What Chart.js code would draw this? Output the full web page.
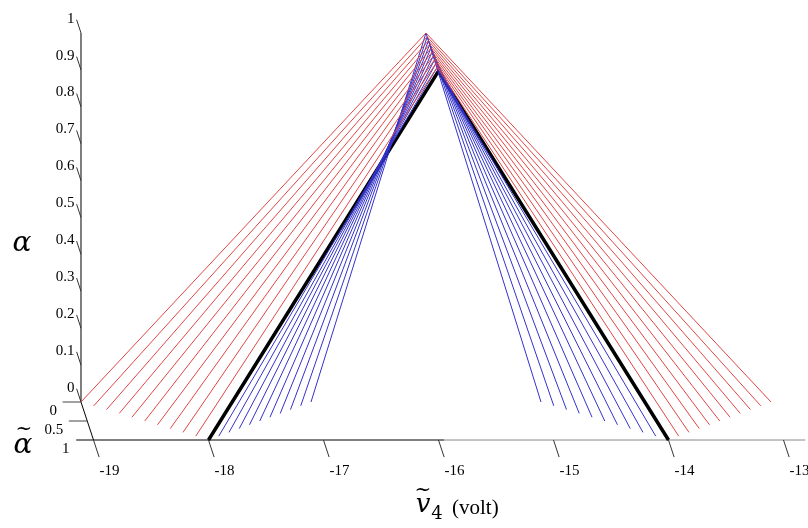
<!DOCTYPE html>
<html>
<head>
<meta charset="utf-8">
<script src="https://cdn.jsdelivr.net/npm/chart.js@4.4.1/dist/chart.umd.min.js"></script>
<style>
  body { margin: 0; background: #fff; }
  #wrap { width: 808px; height: 528px; }
</style>
</head>
<body>
<div id="wrap"><canvas id="myChart"></canvas></div>
<script>
// alpha-tilde levels (depth axis) for the red / blue families
const alphaTilde = [0, 0.1, 0.2, 0.3, 0.4, 0.5, 0.6, 0.7, 0.8, 0.9];
// upper (red) triangles: left end, right end
const redLeft  = [-19, -18.9, -18.8, -18.7, -18.6, -18.5, -18.4, -18.3, -18.2, -18.1];
const redRight = [-13, -13.1, -13.2, -13.3, -13.4, -13.5, -13.6, -13.7, -13.8, -13.9];
// lower (blue) triangles: left end, right end
const blueLeft  = [-17, -17.1, -17.2, -17.3, -17.4, -17.5, -17.6, -17.7, -17.8, -17.9];
const blueRight = [-15, -14.9, -14.8, -14.7, -14.6, -14.5, -14.4, -14.3, -14.2, -14.1];
const peakV = -16;
const peakAlpha = 1;
// alpha-tilde = 1 triangle (black)
const blackV = [-18, -16, -14];
const blackAlpha = [0, 1, 0];
const blackDepth = 1;

// tick labels
const vTicks = [-19, -18, -17, -16, -15, -14, -13];
const alphaTicks = ['0', '0.1', '0.2', '0.3', '0.4', '0.5', '0.6', '0.7', '0.8', '0.9', '1'];
const depthTicks = ['0', '0.5', '1'];

// oblique projection of (v, alpha, alphaTilde) into the flat chart
const KX = 12.5 / 115;
const KY = 38 / 369;
function proj(v, a, d) {
  return { x: v + KX * d, y: a - KY * d };
}

const datasets = [];
alphaTilde.forEach((d, i) => {
  datasets.push({
    data: [proj(redLeft[i], 0, d), proj(peakV, peakAlpha, d), proj(redRight[i], 0, d)],
    borderColor: 'rgb(225,70,70)', borderWidth: 1
  });
});
alphaTilde.forEach((d, i) => {
  datasets.push({
    data: [proj(blueLeft[i], 0, d), proj(peakV, peakAlpha, d), proj(blueRight[i], 0, d)],
    borderColor: 'rgb(50,50,205)', borderWidth: 1
  });
});
datasets.push({
  data: blackV.map((v, i) => proj(v, blackAlpha[i], blackDepth)),
  borderColor: '#000', borderWidth: 3.5
});
datasets.forEach(ds => {
  ds.showLine = true;
  ds.pointRadius = 0;
  ds.fill = false;
  ds.tension = 0;
});

// draws the 3D looking axes, ticks and titles
const axesPlugin = {
  id: 'axes3d',
  beforeDatasetsDraw(chart) {
    const ctx = chart.ctx;
    const sx = chart.scales.x, sy = chart.scales.y;
    const P = (v, a, d) => {
      const p = proj(v, a, d);
      return [sx.getPixelForValue(p.x), sy.getPixelForValue(p.y)];
    };
    const line = (p1, p2, color, w) => {
      ctx.beginPath();
      ctx.strokeStyle = color;
      ctx.lineWidth = w || 1;
      ctx.moveTo(p1[0], p1[1]);
      ctx.lineTo(p2[0], p2[1]);
      ctx.stroke();
    };
    ctx.save();
    const v0 = vTicks[0];

    // alpha axis (vertical) and its ticks
    line(P(v0, 0, 0), P(v0, 1, 0), '#000');
    ctx.font = '15px "Liberation Serif"';
    ctx.fillStyle = '#000';
    ctx.textAlign = 'right';
    ctx.textBaseline = 'middle';
    alphaTicks.forEach(t => {
      const a = parseFloat(t);
      const end = P(v0, a, -0.35);
      line(end, P(v0, a, 0), '#333');
      ctx.fillText(t, end[0] - 2, end[1] - 1);
    });

    // alpha-tilde axis (depth)
    line(P(v0, 0, 0), P(v0, 0, 1), '#000');
    depthTicks.forEach(t => {
      const d = parseFloat(t);
      if (d < 1) line(P(v0 - 0.16, 0, d), P(v0, 0, d), '#444');
      const q = P(v0 - 0.2, 0, d);
      ctx.fillText(t, q[0] - 1, q[1] + 9);
    });

    // v axis at alphaTilde = 1
    line(P(v0 - 0.15, 0, 1), P(-15.95, 0, 1), '#000');
    line(P(-15.95, 0, 1), P(-12.81, 0, 1), '#888');
    ctx.textAlign = 'left';
    vTicks.forEach(v => {
      line(P(v, 0, 1), P(v, 0, 1.45), '#333');
      const q = P(v, 0, 1.8);
      ctx.fillText(String(v), q[0] - 4, q[1] + 1);
    });

    // titles
    ctx.textAlign = 'center';
    ctx.font = 'italic 28px "DejaVu Serif"';
    ctx.fillText('\u03b1', 22, 244);
    ctx.fillText('\u03b1', 23, 446);
    ctx.font = '20px "DejaVu Serif"';
    ctx.fillText('~', 24, 430);

    ctx.font = 'italic 26px "DejaVu Serif"';
    ctx.fillText('v', 423, 505);
    ctx.font = '20px "DejaVu Serif"';
    ctx.fillText('~', 423, 491);
    ctx.font = '18px "DejaVu Serif"';
    ctx.fillText('4', 437, 514);
    ctx.font = '21px "Liberation Serif"';
    ctx.textAlign = 'left';
    ctx.fillText('(volt)', 452, 508);
    ctx.restore();
  }
};

const chart = new Chart(document.getElementById('myChart'), {
  type: 'scatter',
  data: { datasets: datasets },
  options: {
    responsive: true,
    maintainAspectRatio: false,
    animation: false,
    layout: { padding: 0 },
    plugins: { legend: { display: false }, tooltip: { enabled: false } },
    scales: {
      x: { type: 'linear', display: false, min: -19.7043, max: -12.6783 },
      y: { type: 'linear', display: false, min: -0.34146, max: 1.08943 }
    }
  },
  plugins: [axesPlugin]
});
</script>
</body>
</html>
